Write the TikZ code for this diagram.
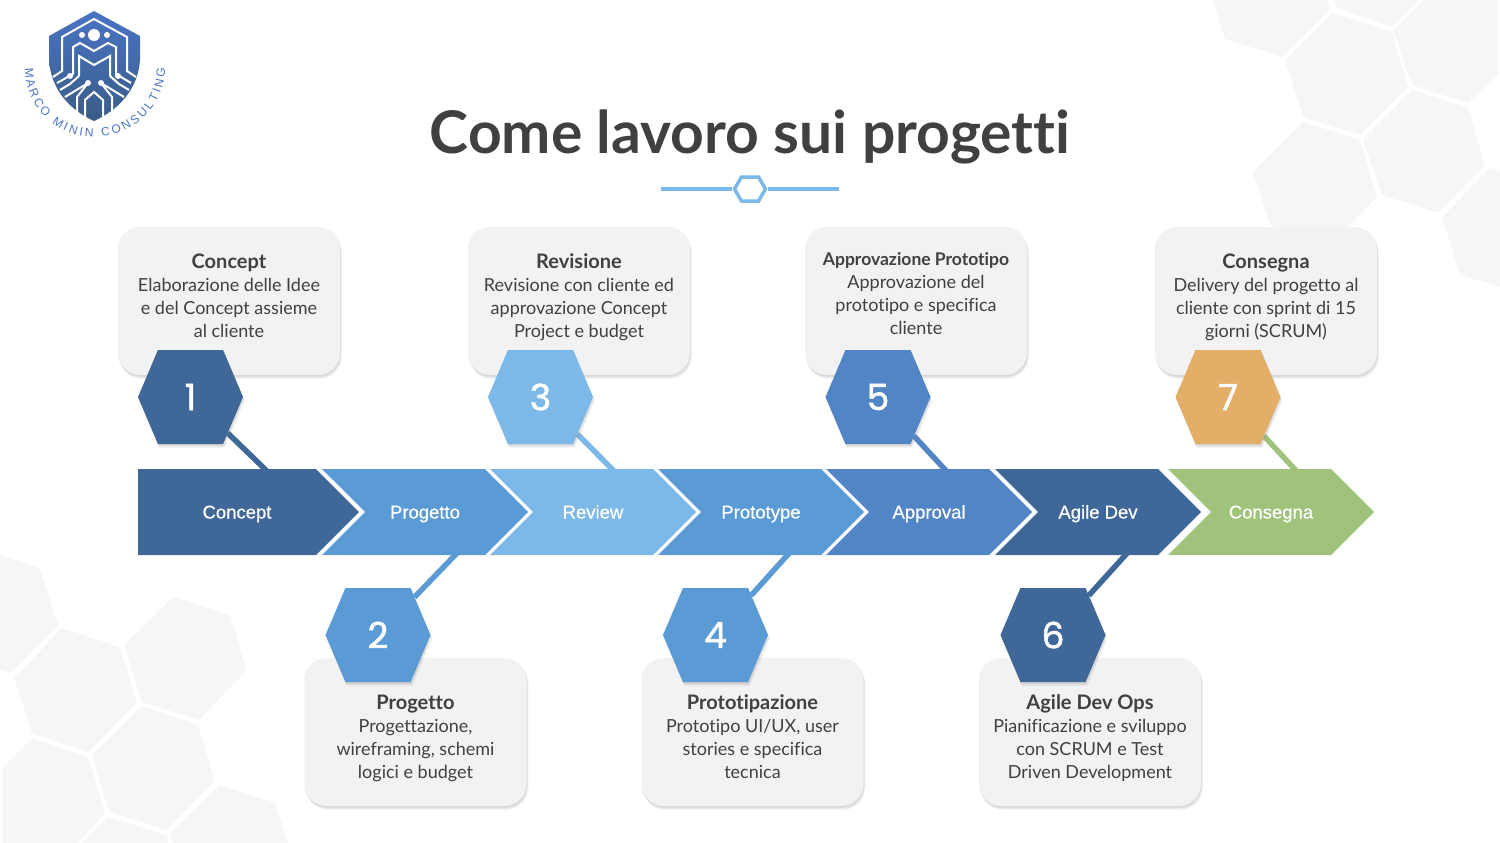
\documentclass[tikz,border=0pt]{standalone}
\usepackage{fontspec}
\setmainfont{Lato}[Ligatures=NoCommon]
\newfontfamily\chevfont{Liberation Sans}[FakeBold=0.5]
\newfontfamily\logofont{Liberation Sans}
\newfontfamily\numfont{Poppins}[FakeBold=1.5]
\usetikzlibrary{shapes.symbols,shadows,backgrounds,decorations.text}
\definecolor{navy}{HTML}{3F6797}
\definecolor{midblue}{HTML}{5B9BD5}
\definecolor{skyblue}{HTML}{7DB9E8}
\definecolor{royal}{HTML}{5285C5}
\definecolor{leaf}{HTML}{A0C37C}
\definecolor{amber}{HTML}{E3AE68}
\definecolor{ink}{HTML}{404040}
\definecolor{pale}{HTML}{F6F6F6}
\definecolor{cardgray}{HTML}{F2F2F2}
\definecolor{logoblue}{HTML}{4A74C4}
\newcommand\cardhead[2][20]{{\fontsize{#1}{23}\selectfont\bfseries\strut #2}}
\tikzset{
  softshadow/.style={
    drop shadow={opacity=.08,shadow xshift=0pt,shadow yshift=-1pt},
    drop shadow={opacity=.10,shadow xshift=1pt,shadow yshift=-2pt},
    drop shadow={opacity=.10,shadow xshift=1pt,shadow yshift=-3pt},
    drop shadow={opacity=.08,shadow xshift=2pt,shadow yshift=-4pt}},
  palehex/.style={fill=pale,draw=none},
  card/.style={draw=none,fill=cardgray,rounded corners=22pt,minimum width=222pt,minimum height=148pt,softshadow},
  cardtext/.style={anchor=north,align=center,text=ink,font=\fontsize{18}{23}\selectfont,inner sep=0pt},
  chev/.style={signal,signal to=east,signal from=west,signal pointer angle=90,minimum width=206pt,minimum height=86pt,
    inner sep=0pt,outer sep=0pt,text=white,font=\chevfont\fontsize{18.5}{23}\selectfont,text height=13pt,text depth=0pt},
  hexa/.style={signal,signal to=west and east,signal pointer angle=134,minimum width=105pt,minimum height=94pt,
    inner sep=0pt,outer sep=0pt,text=white,font=\numfont\fontsize{36}{40}\selectfont,softshadow},
  link/.style={line width=5.5pt},
  logoline/.style={draw=white,line width=2pt},
}
\begin{document}
\begin{tikzpicture}[x=1pt,y=-1pt]
\useasboundingbox (0,0) rectangle (1500,843);
% Title
\node (title) at (750,137) {\fontsize{58.8}{64}\selectfont\bfseries\color{ink}Come lavoro sui progetti};
\node[signal,signal to=west and east,signal pointer angle=120,draw=skyblue,line width=3.5pt,fill=white,
  minimum width=31pt,minimum height=24pt,inner sep=0pt] (dividerhex) at (750,189) {};
\coordinate (dividerl) at (661,189);
\coordinate (dividerr) at (839,189);
\draw[skyblue,line width=3.5pt] (dividerl) -- (dividerhex);
\draw[skyblue,line width=3.5pt] (dividerhex) -- (dividerr);
% Cards
\node[card] (card1) at (229,301) {};
\node[card] (card3) at (579,301) {};
\node[card] (card5) at (916,301) {};
\node[card] (card7) at (1266,301) {};
\node[card] (card2) at (415.5,732) {};
\node[card] (card4) at (752.5,732) {};
\node[card] (card6) at (1090,732) {};
\node[cardtext] (text1) at (229,252) {\cardhead{Concept}\\Elaborazione delle Idee\\e del Concept assieme\\al cliente};
\node[cardtext] (text3) at (579,252) {\cardhead{Revisione}\\Revisione con cliente ed\\approvazione Concept\\Project e budget};
\node[cardtext] (text5) at (916,249) {\cardhead[17.5]{Approvazione Prototipo}\\Approvazione del\\prototipo e specifica\\cliente};
\node[cardtext] (text7) at (1266,252) {\cardhead{Consegna}\\Delivery del progetto al\\cliente con sprint di 15\\giorni (SCRUM)};
\node[cardtext] (text2) at (415.5,693) {\cardhead{Progetto}\\Progettazione,\\wireframing, schemi\\logici e budget};
\node[cardtext] (text4) at (752.5,693) {\cardhead{Prototipazione}\\Prototipo UI/UX, user\\stories e specifica\\tecnica};
\node[cardtext] (text6) at (1090,693) {\cardhead{Agile Dev Ops}\\Pianificazione e sviluppo\\con SCRUM e Test\\Driven Development};
% Arrow band
\node[chev,signal from=nowhere,fill=navy,minimum width=221pt,anchor=west] (step1) at (138,512) {};
\node[chev,fill=midblue] (step2) at (425,512) {Progetto};
\node[chev,fill=skyblue] (step3) at (593,512) {Review};
\node[chev,fill=midblue] (step4) at (761,512) {Prototype};
\node[chev,fill=royal] (step5) at (929,512) {Approval};
\node[chev,fill=navy] (step6) at (1098,512) {Agile Dev};
\node[chev,fill=leaf] (step7) at (1271,512) {Consegna};
\node[text=white,font=\chevfont\fontsize{18.5}{23}\selectfont,text height=13pt,text depth=0pt] (step1text) at (237,512) {Concept};
% Numbered hexagons
\node[hexa,fill=navy] (num1) at (190.5,397) {1};
\node[hexa,fill=skyblue] (num3) at (540.5,397) {3};
\node[hexa,fill=royal] (num5) at (878,397) {5};
\node[hexa,fill=amber] (num7) at (1228,397) {7};
\node[hexa,fill=midblue] (num2) at (378,635) {2};
\node[hexa,fill=midblue] (num4) at (715.5,635) {4};
\node[hexa,fill=navy] (num6) at (1053,635) {6};
\coordinate (end1) at (271,475);
\coordinate (end3) at (618,475);
\coordinate (end5) at (950,475);
\coordinate (end7) at (1300,475);
\coordinate (end2) at (460,550);
\coordinate (end4) at (792,550);
\coordinate (end6) at (1130,550);
\begin{scope}[on background layer]
% Pale hexagons, top right
\fill[palehex] (1213,0) -- (1225,39) -- (1282,57) -- (1330,10) -- (1327,0) -- cycle;
\fill[palehex] (1335,0) -- (1337,8) -- (1392,27) -- (1420,0) -- cycle;
\fill[palehex] (1333,13) -- (1392,32) -- (1408,87) -- (1360,135) -- (1303,117) -- (1285,60) -- cycle;
\fill[palehex] (1423,0) -- (1393,30) -- (1412,85) -- (1468,103) -- (1498,75) -- (1498,0) -- cycle;
\fill[palehex] (1412,90) -- (1468,108) -- (1485,165) -- (1438,213) -- (1382,195) -- (1363,140) -- cycle;
\fill[palehex] (1303,122) -- (1360,140) -- (1377,197) -- (1330,245) -- (1270,225) -- (1253,172) -- cycle;
\fill[palehex] (1442,217) -- (1490,168) -- (1500,172) -- (1500,287) -- (1460,275) -- cycle;
% Pale hexagons, bottom left
\fill[palehex] (0,555) -- (40,568) -- (58,625) -- (10,673) -- (0,670) -- cycle;
\fill[palehex] (62,628) -- (120,647) -- (137,703) -- (88,752) -- (32,733) -- (14,678) -- cycle;
\fill[palehex] (173,597) -- (230,615) -- (247,670) -- (199,720) -- (142,702) -- (124,645) -- cycle;
\fill[palehex] (142,706) -- (198,725) -- (215,781) -- (167,830) -- (109,812) -- (92,755) -- cycle;
\fill[palehex] (32,738) -- (88,757) -- (105,813) -- (78,843) -- (2,843) -- (2,768) -- cycle;
\fill[palehex] (170,833) -- (220,785) -- (275,803) -- (288,843) -- (173,843) -- cycle;
\fill[palehex] (108,817) -- (167,835) -- (168,843) -- (82,843) -- cycle;
% Connectors
\draw[link,navy] (num1) -- (end1);
\draw[link,skyblue] (num3) -- (end3);
\draw[link,royal] (num5) -- (end5);
\draw[link,leaf] (num7) -- (end7);
\draw[link,midblue] (num2) -- (end2);
\draw[link,midblue] (num4) -- (end4);
\draw[link,navy] (num6) -- (end6);
\end{scope}
% Logo
\shade[top color=logoblue,bottom color=navy!90!black] (94,11) -- (140,36) -- (140,60) .. controls (138,90) and (118,110) .. (94,121)
  .. controls (70,110) and (51,90) .. (49,60) -- (49,36) -- cycle;
\draw[logoline] (53,77) -- (62,71) -- (62,37) -- (94,19) -- (127,37) -- (127,71) -- (136,77);
\draw[logoline] (57,83) -- (73,74) -- (73,47) -- (80,43) -- (94,51) -- (108,43) -- (116,47) -- (116,74) -- (131,83);
\draw[logoline] (79,76) -- (79,56) -- (94,65) -- (110,56) -- (110,76);
\draw[logoline] (60,90) -- (70,84) -- (79,76);
\draw[logoline] (129,90) -- (119,84) -- (110,76);
\draw[logoline] (65,97) -- (88,83);
\draw[logoline] (124,97) -- (101,83);
\draw[logoline] (77,116) -- (77,97) -- (88,83);
\draw[logoline] (112,116) -- (112,97) -- (101,83);
\draw[logoline] (85,118) -- (85,100) -- (94,92) -- (103,100) -- (103,118);
\fill[white] (94,35) circle (6pt);
\fill[white] (82,35) circle (3pt);
\fill[white] (107,35) circle (3pt);
\fill[white] (70,76) circle (3pt);
\fill[white] (118,76) circle (3pt);
\fill[white] (88,83) circle (3pt);
\fill[white] (101,83) circle (3pt);
\path[decorate,decoration={text along path,text color=logoblue,text align={fit to path},
  text={|\logofont\fontsize{12}{13}\selectfont|MARCO MININ CONSULTING}}]
  (25,68) .. controls (25,106.7) and (55.3,137) .. (94,137) .. controls (132.7,137) and (165,106.7) .. (165,68);
\end{tikzpicture}
\end{document}
